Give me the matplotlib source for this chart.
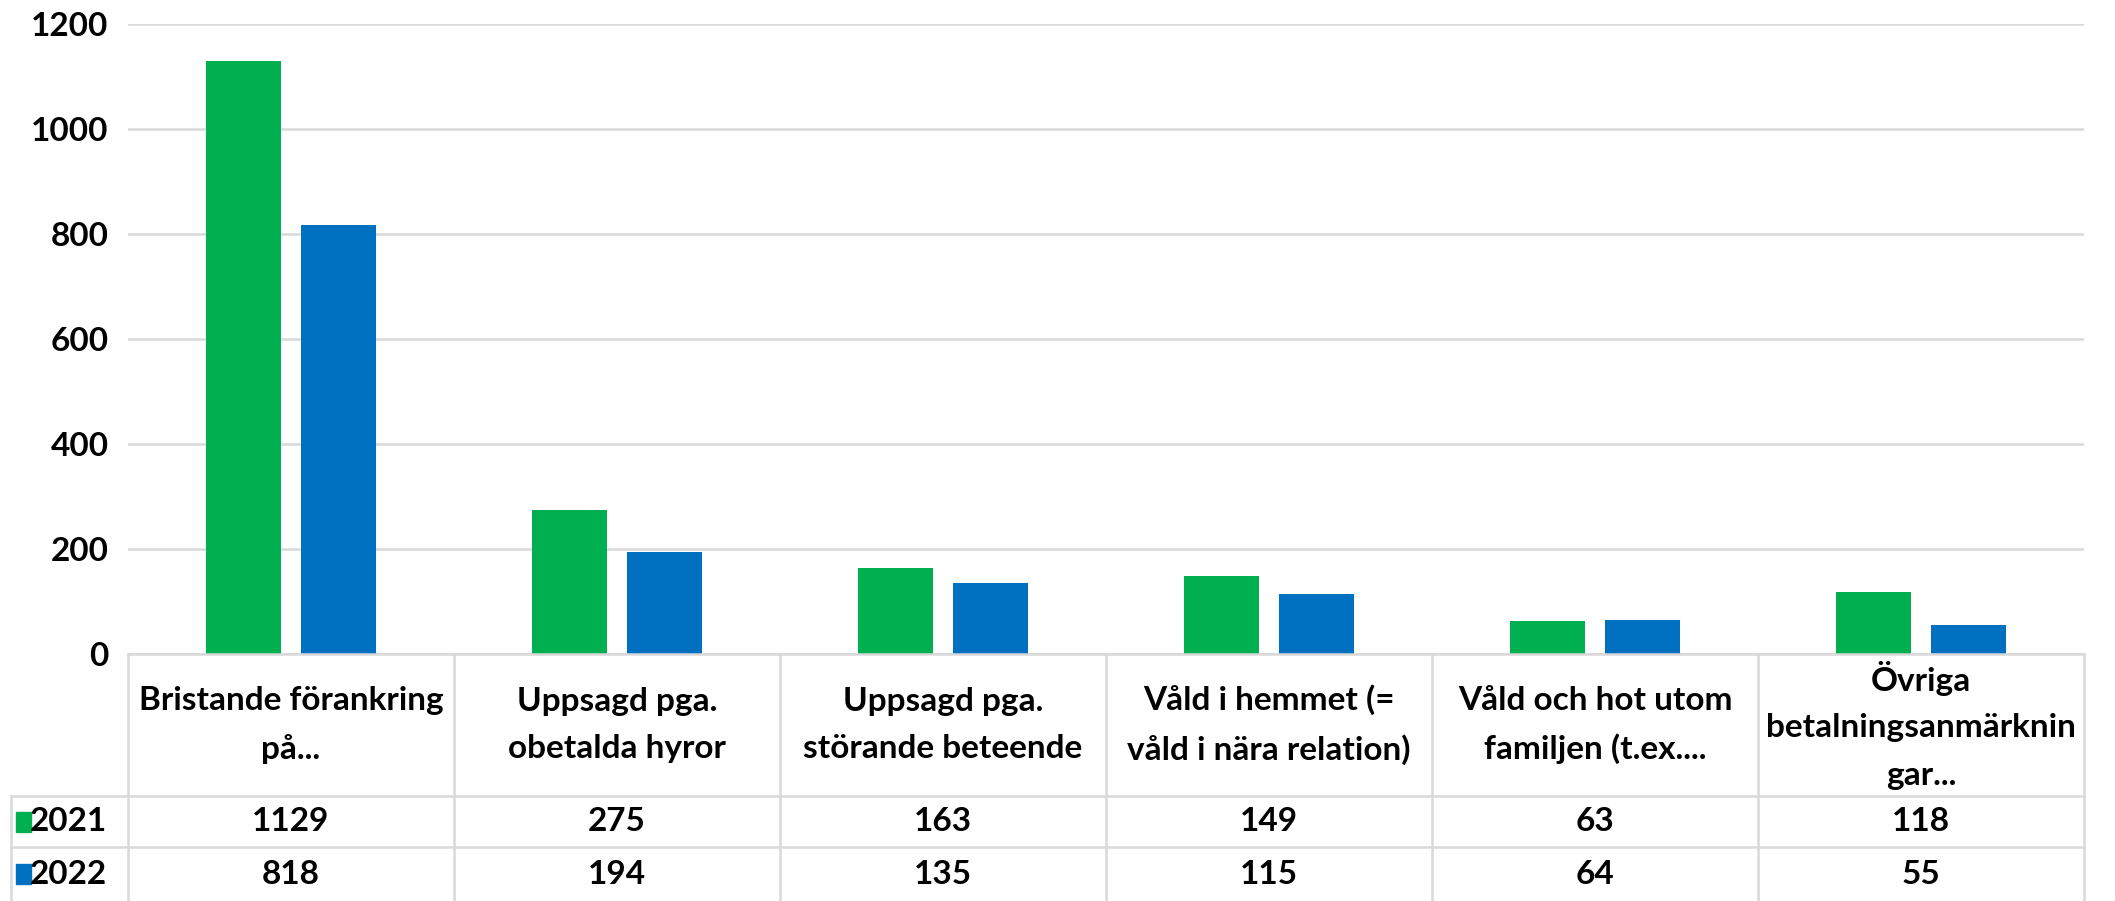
import matplotlib.pyplot as plt
from matplotlib.patches import Rectangle
import numpy as np

# --- DATA ---
kategorier = [
    "Bristande förankring\npå...",
    "Uppsagd pga.\nobetalda hyror",
    "Uppsagd pga.\nstörande beteende",
    "Våld i hemmet (=\nvåld i nära relation)",
    "Våld och hot utom\nfamiljen (t.ex....",
    "Övriga\nbetalningsanmärknin\ngar...",
]
ar = ["2021", "2022"]
varden_2021 = [1129, 275, 163, 149, 63, 118]
varden_2022 = [818, 194, 135, 115, 64, 55]
y_ticks = [0, 200, 400, 600, 800, 1000, 1200]

farger = ["#00B050", "#0070C0"]
linjefarg = "#D9D9D9"

plt.rcParams['font.family'] = ['Lato', 'DejaVu Sans']
plt.rcParams['font.weight'] = 'bold'
FS = 24

W, H = 2115, 901
fig = plt.figure(figsize=(W / 100, H / 100), dpi=100)

# pixel layout
vanster, hoger = 128, 2084
topp, noll = 24, 654

ax = fig.add_axes([vanster / W, 1 - noll / H, (hoger - vanster) / W, (noll - topp) / H])
x = np.arange(len(kategorier))
bredd = 0.23
ax.bar(x - 0.145, varden_2021, bredd, color=farger[0], zorder=3)
ax.bar(x + 0.145, varden_2022, bredd, color=farger[1], zorder=3)
ax.set_xlim(-0.5, len(kategorier) - 0.5)
ax.set_ylim(0, 1200)
ax.set_yticks(y_ticks)
ax.set_yticklabels([str(t) for t in y_ticks], fontsize=FS, fontweight='bold')
ax.tick_params(axis='y', length=0, pad=14)
ax.set_xticks([])
ax.grid(axis='y', color=linjefarg, linewidth=1.8, zorder=0)
for s in ax.spines.values():
    s.set_visible(False)

# --- TABELL ---
tab = fig.add_axes([vanster / W, 0, (hoger - vanster) / W, (H - noll) / H])
tab.set_xlim(-0.5, len(kategorier) - 0.5)
tab.set_ylim(1, 0)
tab.axis('off')

rad1 = (796 - noll) / (H - noll)
rad2 = (847 - noll) / (H - noll)
kol_bredd = (hoger - vanster) / len(kategorier)
tab_vanster = -0.5 + (11 - vanster) / kol_bredd

lw = 1.8
tab.plot([-0.5, 5.5], [0, 0], color=linjefarg, lw=lw, clip_on=False)
for yy in [rad1, rad2]:
    tab.plot([tab_vanster, 5.5], [yy, yy], color=linjefarg, lw=lw, clip_on=False)
for xx in np.arange(-0.5, 6, 1):
    tab.plot([xx, xx], [0, 1], color=linjefarg, lw=lw, clip_on=False)
tab.plot([tab_vanster, tab_vanster], [rad1, 1], color=linjefarg, lw=lw, clip_on=False)

for i, namn in enumerate(kategorier):
    tab.text(i, rad1 / 2, namn, ha='center', va='center', fontsize=FS,
             fontweight='bold', linespacing=1.75, multialignment='center')

rad_mitt = [(rad1 + rad2) / 2, (rad2 + 1) / 2]
for r, (etikett, varden) in enumerate(zip(ar, [varden_2021, varden_2022])):
    for i, v in enumerate(varden):
        tab.text(i, rad_mitt[r], str(v), ha='center', va='center', fontsize=FS, fontweight='bold')
    kx0 = -0.5 + (16 - vanster) / kol_bredd
    kx1 = -0.5 + (31 - vanster) / kol_bredd
    kh = 20 / (H - noll)
    tab.add_patch(Rectangle((kx0, rad_mitt[r] - kh / 2), kx1 - kx0, kh,
                            color=farger[r], clip_on=False))
    tab.text(kx1 - 0.005, rad_mitt[r], etikett, ha='left', va='center', fontsize=FS, fontweight='bold')

fig.savefig("out.png", dpi=100)
